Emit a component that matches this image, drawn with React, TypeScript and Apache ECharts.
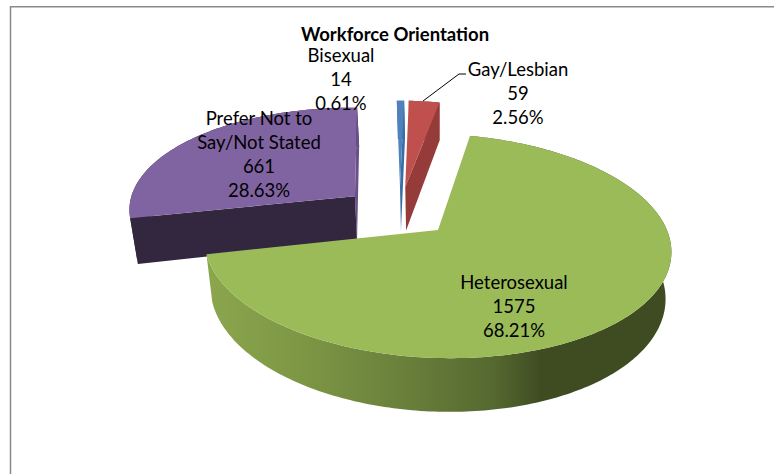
import React, { useEffect, useRef } from "react";
import * as echarts from "echarts";

const categories = ["Bisexual", "Gay/Lesbian", "Heterosexual", "Prefer Not to\nSay/Not Stated"];
const values = [14, 59, 1575, 661];
const titleText = "Workforce Orientation";

const topColors = ["#4f81bd", "#c0504d", "#9bbb59", "#8064a2"];
const startWallColors = ["#3a6da5", "#953b39", null, "#33273f"];
const endWallColors = ["#3a6da5", "#953b39", null, "#6a5088"];
const drawOrder = [2, 3, 4, 1];
const explodeU = [-0.174, -0.15, 0, -0.375];
const explodeV = [0.405, 0.407, 0, 0.3];
const labelX = [341, 518, 514, 259];
const labelY = [43, 57, 269.5, 106];
const FONT = "Lato, sans-serif";
const firstAngle = -2.3;

const CX = 438, CY = 230, F = 231, G = 109.7, K = 0.143, H = 46, SHRINK = 0.025, SHEAR = 0.026;

function project(u: number, v: number, z: number): number[] {
  const d = 1 + K * v;
  const dx = (F * u) / d;
  return [CX + dx * (1 - SHRINK * z), CY - (G * v) / d + (H * z) / d + SHEAR * dx];
}

function rimPoint(deg: number, ou: number, ov: number, z: number): number[] {
  const a = (deg * Math.PI) / 180;
  return project(Math.sin(a) + ou, Math.cos(a) + ov, z);
}

function arc(a0: number, a1: number, ou: number, ov: number, z: number): number[][] {
  const pts: number[][] = [];
  const n = Math.max(2, Math.ceil(a1 - a0));
  for (let i = 0; i <= n; i++) pts.push(rimPoint(a0 + ((a1 - a0) * i) / n, ou, ov, z));
  return pts;
}

const rimGradient = new echarts.graphic.LinearGradient(207, 0, 671, 0, [
  { offset: 0, color: "#8ba64d" },
  { offset: 0.2, color: "#7d9745" },
  { offset: 0.45, color: "#677d3a" },
  { offset: 0.62, color: "#55682f" },
  { offset: 0.72, color: "#3f4c22" },
  { offset: 1, color: "#3f4c22" },
], true);

const total = values.reduce((a, b) => a + b, 0);

function renderSlice(params: any, api: any) {
  const i = params.dataIndex;
  const value = api.value(0);
  const before = values.slice(0, i).reduce((a, b) => a + b, 0);
  const a0 = firstAngle + (before / total) * 360;
  const a1 = a0 + (value / total) * 360;
  const ou = explodeU[i], ov = explodeV[i];
  const z2 = drawOrder[i];
  const apexTop = project(ou, ov, 0);
  const apexBot = project(ou, ov, 1);
  const children: any[] = [];
  const wall = (deg: number, color: string) => ({
    type: "polygon",
    z2,
    shape: { points: [apexTop, rimPoint(deg, ou, ov, 0), rimPoint(deg, ou, ov, 1), apexBot] },
    style: { fill: color },
  });
  const rim = arc(a0, a1, ou, ov, 0).concat(arc(a0, a1, ou, ov, 1).reverse());
  children.push({
    type: "polygon",
    z2,
    shape: { points: rim },
    style: { fill: i === 2 ? rimGradient : startWallColors[i] },
  });
  if (endWallColors[i]) children.push(wall(a1, endWallColors[i] as string));
  if (startWallColors[i] && i === 3) children.push(wall(a0, startWallColors[i] as string));
  children.push({
    type: "polygon",
    z2,
    shape: { points: [apexTop].concat(arc(a0, a1, ou, ov, 0)) },
    style: { fill: topColors[i] },
  });
  const pct = ((value / total) * 100).toFixed(2) + "%";
  children.push({
    type: "text",
    z2: 20,
    style: {
      text: `${categories[i]}\n${value}\n${pct}`,
      x: labelX[i],
      y: labelY[i],
      fill: "#000",
      font: `18.5px ${FONT}`,
      lineHeight: 24,
      align: "center",
      verticalAlign: "top",
    },
  });
  return { type: "group", children };
}

export default function App() {
  const ref = useRef<HTMLDivElement>(null);
  useEffect(() => {
    document.body.style.margin = "0";
    const chart = echarts.init(ref.current!, null, { renderer: "svg" });
    chart.setOption({
      animation: false,
      backgroundColor: "#fff",
      title: {
        text: titleText,
        left: 390,
        top: 19,
        textAlign: "center",
        textStyle: { fontFamily: FONT, fontSize: 18.5, fontWeight: "bold", color: "#000" },
      },
      graphic: [
        {
          type: "polyline",
          shape: { points: [[10.5, 480], [10.5, 6.75], [780, 6.75]] },
          style: { stroke: "#8a8a8a", lineWidth: 1.5, fill: "none" },
        },
        {
          type: "polyline",
          z: 10,
          shape: { points: [[423, 101], [459, 74], [466, 74]] },
          style: { stroke: "#000", lineWidth: 1, fill: "none" },
        },
      ],
      series: [
        {
          type: "custom",
          coordinateSystem: "none",
          renderItem: renderSlice,
          data: values.map((v, i) => ({ name: categories[i], value: [v] })),
        },
      ],
    });
    return () => chart.dispose();
  }, []);
  return <div ref={ref} style={{ width: 774, height: 474 }} />;
}
